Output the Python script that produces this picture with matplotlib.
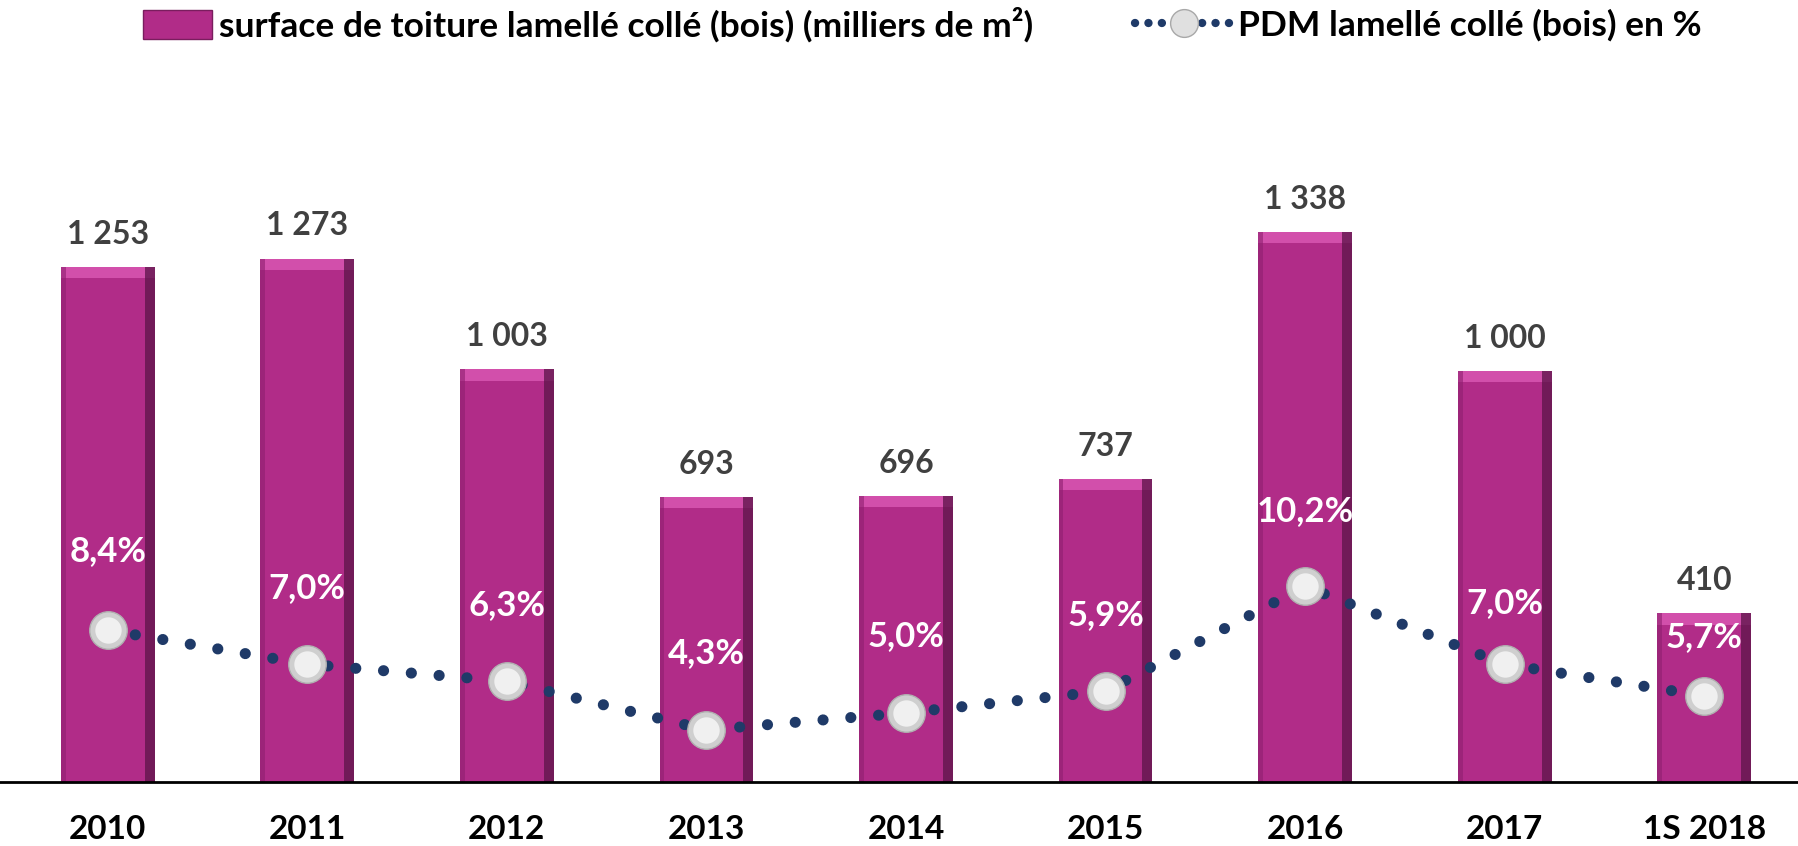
import matplotlib.pyplot as plt
from matplotlib.patches import Patch
from matplotlib.lines import Line2D

plt.rcParams['font.family'] = ['Lato', 'DejaVu Sans']
plt.rcParams['font.weight'] = 'bold'

# data
years = ['2010', '2011', '2012', '2013', '2014', '2015', '2016', '2017', '1S 2018']
surface = [1253, 1273, 1003, 693, 696, 737, 1338, 1000, 410]
surface_labels = ['1 253', '1 273', '1 003', '693', '696', '737', '1 338', '1 000', '410']
pdm = [8.4, 7.0, 6.3, 4.3, 5.0, 5.9, 10.2, 7.0, 5.7]
pdm_labels = ['8,4%', '7,0%', '6,3%', '4,3%', '5,0%', '5,9%', '10,2%', '7,0%', '5,7%']

# label offsets above the markers (points)
pct_offsets = [57, 55, 55, 55, 55, 55, 54, 44, 42]

bar_color = '#b12c88'
line_color = '#1f3a68'

fig = plt.figure(figsize=(17.98, 8.46), dpi=100)
ax = fig.add_axes([0, 0.076, 1, 0.924])
x = list(range(len(years)))
w = 0.47

ax.bar(x, surface, width=w, color=bar_color, zorder=2)
# bevel look: light top strip, dark right edge
bevel = 28
ax.bar(x, [bevel] * len(x), bottom=[v - bevel for v in surface], width=w,
       color='#d24fab', zorder=3)
ax.bar([i + w / 2 - 0.025 for i in x], surface, width=0.05, color='#5c1448',
       alpha=0.75, zorder=3)
ax.bar([i - w / 2 + 0.012 for i in x], surface, width=0.024, color='#8f2070',
       alpha=0.6, zorder=3)

for i, v in enumerate(surface):
    ax.annotate(surface_labels[i], (i, v), xytext=(0, 13), textcoords='offset points',
                ha='center', va='bottom', fontsize=23, color='#404040', fontweight='bold')

ax.set_xlim(-0.54, 8.47)
ax.set_ylim(0, 1902)
ax.set_xticks(x)
ax.set_xticklabels(years, fontsize=24, fontweight='bold')
ax.tick_params(axis='x', length=0, pad=24)
ax.set_yticks([])
for s in ['top', 'left', 'right']:
    ax.spines[s].set_visible(False)
ax.spines['bottom'].set_linewidth(2)
ax.spines['bottom'].set_zorder(5)

ax2 = ax.twinx()
ax2.set_ylim(2.17, 34.3)
ax2.set_yticks([])
for s in ax2.spines.values():
    s.set_visible(False)
ax2.plot(x, pdm, color=line_color, linewidth=8, linestyle=(0, (0.01, 2.5)),
         dash_capstyle='round', zorder=3)
ax2.plot(x, pdm, 'o', markersize=27, markerfacecolor='#cfcfcf',
         markeredgecolor='#b0b0b0', markeredgewidth=1, zorder=4)
ax2.plot(x, pdm, 'o', markersize=19, markerfacecolor='#f2f2f2',
         markeredgewidth=0, alpha=0.95, zorder=5)
for i, p in enumerate(pdm):
    ax2.annotate(pdm_labels[i], (i, p), xytext=(0, pct_offsets[i]), textcoords='offset points',
                 ha='center', va='center', fontsize=25, color='white', fontweight='bold')

# legend
h1 = Patch(facecolor=bar_color, edgecolor='#7a1d5e')
h2 = Line2D([0], [0], color=line_color, linewidth=6, linestyle=(0, (0.01, 1.6)),
            dash_capstyle='round', marker='o', markersize=20,
            markerfacecolor='#e0e0e0', markeredgecolor='#a8a8a8')
fig.legend([h1], ['surface de toiture lamellé collé (bois) (milliers de m²)'],
           loc='center left', bbox_to_anchor=(143 / 1798, 1 - 25 / 846),
           frameon=False, handlelength=1.95, handleheight=0.85,
           handletextpad=0.2, borderpad=0, borderaxespad=0,
           prop={'weight': 'bold', 'size': 25.5})
fig.legend([h2], ['PDM lamellé collé (bois) en %'],
           loc='center left', bbox_to_anchor=(1135 / 1798, 1 - 25 / 846),
           frameon=False, handlelength=2.75, handletextpad=0.15, borderpad=0,
           borderaxespad=0, numpoints=1, prop={'weight': 'bold', 'size': 25.5})

fig.savefig('out.png', dpi=100)
